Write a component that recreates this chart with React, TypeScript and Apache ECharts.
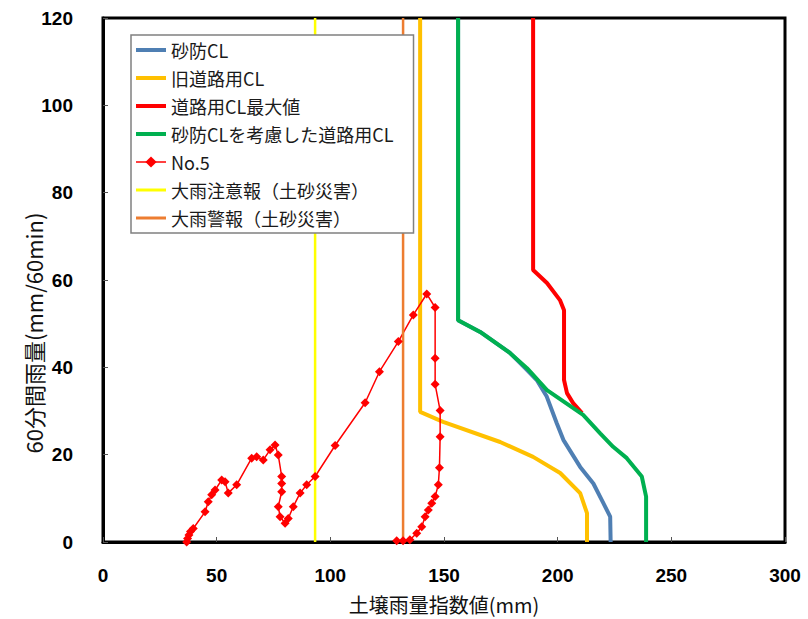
import React, { useEffect, useRef } from "react";
import * as echarts from "echarts";

// 砂防CL
const sabouX = [156.2, 156.2, 165.9, 179.0, 185.7, 190.8, 195.2, 199.6, 202.5, 209.9, 215.7, 220.1, 223.1, 223.3];
const sabouY = [120, 50.8, 48.1, 43.3, 39.8, 37.1, 33.3, 27.2, 23.4, 17.2, 13.4, 8.9, 5.8, 0];
// 旧道路用CL
const oldRoadX = [139.5, 139.5, 149.6, 174.7, 189.2, 201.1, 209.9, 212.9, 212.9];
const oldRoadY = [120, 29.8, 27.5, 22.9, 19.5, 15.8, 11.2, 6.6, 0];
// 道路用CL最大値
const roadMaxX = [189.2, 189.2, 195.3, 201.0, 202.8, 202.8, 204.1, 206.8, 210.7];
const roadMaxY = [120, 62.3, 59.3, 55.4, 53.1, 37.1, 34.1, 31.8, 29.5];
// 砂防CLを考慮した道路用CL
const combX = [156.2, 156.2, 165.9, 179.0, 186.5, 195.3, 211.2, 218.7, 224.4, 230.4, 237.0, 238.9, 238.9];
const combY = [120, 50.8, 48.1, 43.3, 39.8, 34.8, 29.1, 24.9, 21.8, 19.2, 15.0, 10.4, 0];
// No.5
const no5X = [36.8, 37.2, 37.8, 38.5, 39.7, 44.9, 46.3, 47.8, 49.3, 52.2, 53.7, 55.1, 58.8, 65.4, 67.6, 70.5, 73.5, 75.7, 77.1, 78.6, 78.6, 78.6, 77.1, 77.9, 80.1, 81.5, 83.7, 86.7, 89.6, 93.3, 102.1, 115.3, 121.6, 129.9, 136.5, 142.4, 146.1, 146.1, 146.1, 148.3, 148.3, 148.0, 147.5, 146.1, 144.6, 143.1, 141.7, 140.2, 138.0, 135.0, 132.0, 129.2];
const no5Y = [0, 0.8, 1.6, 2.4, 3.1, 6.9, 9.2, 10.8, 11.9, 14.2, 13.8, 11.2, 13.1, 19.2, 19.5, 18.8, 21.1, 22.2, 19.9, 15.0, 13.4, 11.5, 8.1, 5.8, 4.3, 5.4, 8.1, 11.2, 13.1, 15.0, 22.1, 31.9, 39.0, 45.9, 52.0, 56.8, 53.7, 42.1, 36.1, 30.1, 24.1, 17.0, 13.1, 10.4, 8.9, 7.3, 5.8, 3.5, 2.0, 0.5, 0.3, 0.3];
// 大雨注意報 / 大雨警報
const chuuihouX = 93.3;
const keihouX = 132.0;
const alertY = [0, 120];

const seriesNames = ["砂防CL", "旧道路用CL", "道路用CL最大値", "砂防CLを考慮した道路用CL", "No.5", "大雨注意報（土砂災害）", "大雨警報（土砂災害）"];
const seriesColors = ["#4F7FB3", "#FFC000", "#FF0000", "#00B050", "#FF0000", "#FFFF00", "#ED7D31"];
const xName = "土壌雨量指数値(mm)";
const yName = "60分間雨量(mm/60min)";

const zip = (xs: number[], ys: number[]) => xs.map((x, i) => [x, ys[i]]);

export default function App() {
  const ref = useRef<HTMLDivElement>(null);
  useEffect(() => {
    if (!ref.current) return;
    const chart = echarts.init(ref.current, null, { renderer: "svg" });
    const cl = (idx: number, data: number[][], width: number) => ({
      name: seriesNames[idx],
      type: "line",
      data,
      symbol: "none",
      showSymbol: false,
      lineStyle: { color: seriesColors[idx], width },
      itemStyle: { color: seriesColors[idx] },
    });
    const legendData = seriesNames.map((n, i) =>
      n === "No.5"
        ? { name: n, lineStyle: { width: 1.5, color: seriesColors[i] } }
        : {
            name: n,
            itemStyle: { opacity: 0, color: "transparent", borderWidth: 0 },
            lineStyle: { width: i < 4 ? 4 : 3, color: seriesColors[i] },
          }
    );
    chart.setOption({
      animation: false,
      backgroundColor: "#ffffff",
      grid: { left: 103, top: 18, width: 682, height: 524, show: true, borderColor: "#000", borderWidth: 3, backgroundColor: "transparent" },
      xAxis: {
        type: "value",
        min: 0,
        max: 300,
        interval: 50,
        name: xName,
        nameLocation: "middle",
        nameGap: 52,
        nameTextStyle: { fontFamily: "Noto Sans CJK JP", fontSize: 20, color: "#111" },
        axisLine: { show: true, lineStyle: { color: "#000", width: 3 } },
        axisTick: { show: true, inside: true, length: 5, lineStyle: { color: "#555", width: 1 } },
        axisLabel: { fontFamily: "Liberation Sans", fontWeight: "bold", fontSize: 19, color: "#000", margin: 24 },
        splitLine: { show: false },
      },
      yAxis: {
        type: "value",
        min: 0,
        max: 120,
        interval: 20,
        axisLine: { show: true, lineStyle: { color: "#000", width: 3 } },
        axisTick: { show: true, inside: true, length: 5, lineStyle: { color: "#555", width: 1 } },
        axisLabel: { fontFamily: "Liberation Sans", fontWeight: "bold", fontSize: 19, color: "#000", margin: 30 },
        splitLine: { show: false },
      },
      legend: {
        orient: "vertical",
        left: 131,
        top: 35,
        data: legendData,
        itemWidth: 30,
        itemHeight: 14,
        itemGap: 10,
        padding: [6, 20, 6, 3],
        backgroundColor: "#fff",
        borderColor: "#808080",
        borderWidth: 1.5,
        textStyle: { fontFamily: "Noto Sans CJK JP", fontSize: 18, color: "#1a1a1a" },
        z: 10,
      },
      graphic: [
        {
          type: "text",
          x: 33,
          y: 333,
          rotation: Math.PI / 2,
          style: { text: yName, fontFamily: "Noto Sans CJK JP", fontSize: 22, fill: "#111", textAlign: "center", textVerticalAlign: "middle" },
        },
      ],
      series: [
        cl(0, zip(sabouX, sabouY), 4),
        cl(1, zip(oldRoadX, oldRoadY), 4),
        cl(2, zip(roadMaxX, roadMaxY), 4),
        cl(3, zip(combX, combY), 4),
        {
          name: seriesNames[4],
          type: "line",
          data: zip(no5X, no5Y),
          symbol: "diamond",
          symbolSize: 9,
          showSymbol: true,
          lineStyle: { color: seriesColors[4], width: 1.5 },
          itemStyle: { color: seriesColors[4] },
        },
        cl(5, alertY.map((y) => [chuuihouX, y]), 2.5),
        cl(6, alertY.map((y) => [keihouX, y]), 2.5),
      ],
    });
    return () => chart.dispose();
  }, []);
  return <div ref={ref} style={{ position: "fixed", left: 0, top: 0, width: 808, height: 619 }} />;
}
